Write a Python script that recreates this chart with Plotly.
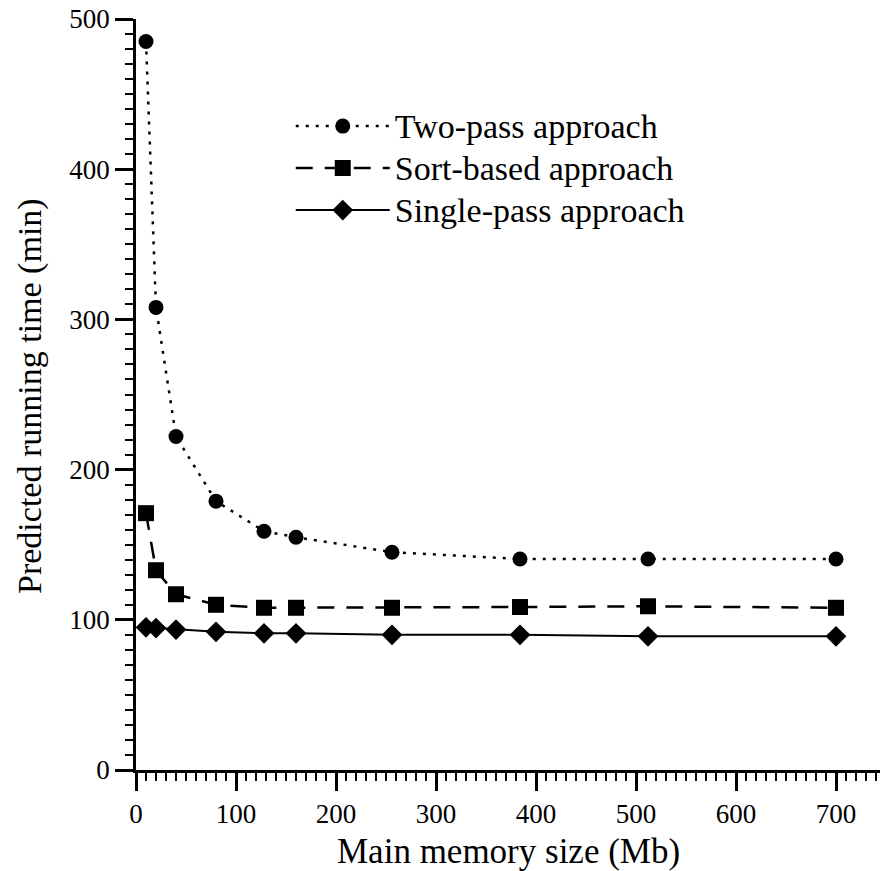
import plotly.graph_objects as go

memory_mb = [10, 20, 40, 80, 128, 160, 256, 384, 512, 700]
two_pass = [485, 308, 222, 179, 159, 155, 145, 140.5, 140.5, 140.5]
sort_based = [171, 133, 117, 110, 108, 108, 108, 108.5, 109, 108]
single_pass = [95, 94.5, 93.5, 92, 91, 91, 90, 90, 89, 89]
series_names = ["Two-pass approach", "Sort-based approach", "Single-pass approach"]

FONT = "Liberation Serif, Times New Roman, serif"


def legend_label(text):
    return "<span style='font-size:34px'>" + text + "</span>"


fig = go.Figure()
fig.add_trace(go.Scatter(x=memory_mb, y=two_pass, mode="lines+markers", name=legend_label(series_names[0]),
                         line=dict(color="black", width=2.5, dash="3px,7px"),
                         marker=dict(symbol="circle", size=15, color="black")))
fig.add_trace(go.Scatter(x=memory_mb, y=sort_based, mode="lines+markers", name=legend_label(series_names[1]),
                         line=dict(color="black", width=2.5, dash="17px,12px"),
                         marker=dict(symbol="square", size=16, color="black")))
fig.add_trace(go.Scatter(x=memory_mb, y=single_pass, mode="lines+markers", name=legend_label(series_names[2]),
                         line=dict(color="black", width=2, dash="solid"),
                         marker=dict(symbol="diamond", size=16, color="black")))

fig.update_xaxes(range=[0, 744], tickmode="linear", tick0=0, dtick=100,
                 showline=True, linecolor="black", linewidth=2.5, showgrid=False, zeroline=False,
                 ticks="outside", ticklen=18, tickwidth=2.5, tickcolor="black",
                 tickfont=dict(family=FONT, size=27, color="black"),
                 minor=dict(ticks="outside", ticklen=8, tickwidth=2, tickcolor="black",
                            tickmode="linear", tick0=0, dtick=10, showgrid=False))
fig.update_yaxes(range=[0, 500], tickmode="linear", tick0=0, dtick=100,
                 showline=True, linecolor="black", linewidth=2.5, showgrid=False, zeroline=False,
                 ticks="outside", ticklen=18, tickwidth=2.5, tickcolor="black",
                 tickfont=dict(family=FONT, size=27, color="black"),
                 minor=dict(ticks="outside", ticklen=8, tickwidth=2, tickcolor="black",
                            tickmode="linear", tick0=0, dtick=10, showgrid=False))

fig.update_layout(
    width=881, height=871,
    margin=dict(l=136, r=1, t=19, b=101),
    paper_bgcolor="white", plot_bgcolor="white",
    font=dict(family=FONT, color="black"),
    showlegend=True,
    legend=dict(x=0.208, y=0.892, xanchor="left", yanchor="top", bgcolor="rgba(0,0,0,0)",
                font=dict(family=FONT, size=30, color="black"), itemwidth=94, tracegroupgap=0),
    annotations=[
        dict(text="Main memory size (Mb)", x=0.5, y=-0.109, xref="paper", yref="paper",
             xanchor="center", yanchor="middle", showarrow=False,
             font=dict(family=FONT, size=35, color="black")),
        dict(text="Predicted running time (min)", x=-0.1425, y=0.498, xref="paper", yref="paper",
             xanchor="center", yanchor="middle", showarrow=False, textangle=-90,
             font=dict(family=FONT, size=34, color="black")),
    ],
)

fig.write_html("out.html", config={"displayModeBar": False},
               post_script="document.body.style.margin='0';")
